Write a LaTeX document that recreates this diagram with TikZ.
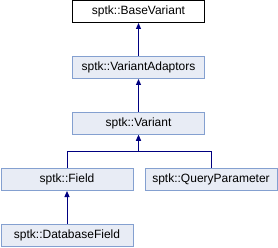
\documentclass[tikz,border=0pt]{standalone}
\usepackage{fontspec}
\setmainfont{Liberation Sans}
\usepackage{tikz}
\usetikzlibrary{arrows.meta}
\definecolor{navyx}{HTML}{000080}
\definecolor{edgex}{HTML}{84A0D0}
\definecolor{fillx}{HTML}{E8ECF5}
\tikzset{
  ar/.style={{Triangle[length=6pt,width=5pt]}-,navyx,line width=1pt},
  cls/.style={draw=edgex,line width=1pt,fill=fillx,minimum width=132pt,minimum height=22pt,inner sep=0pt,font=\fontsize{12}{14}\selectfont},
  top/.style={cls,draw=black,fill=white}
}
\begin{document}
\begin{tikzpicture}[x=1pt,y=-1pt]
\useasboundingbox (0,0) rectangle (278,248);
\node[top] (base) at (138.5,11.5) {sptk::BaseVariant};
\node[cls] (adapt) at (138.5,67.5) {sptk::VariantAdaptors};
\node[cls] (var) at (138.5,123.5) {sptk::Variant};
\node[cls] (field) at (67,179.5) {sptk::Field};
\node[cls] (query) at (211,179.5) {sptk::QueryParameter};
\node[cls] (dbfield) at (67,235.5) {sptk::DatabaseField};
\draw[ar] (base.south) -- (adapt.north);
\draw[ar] (adapt.south) -- (var.north);
\draw[ar] (var.south) -- ++(0,17) -| (field.north);
\draw[ar] (var.south) -- ++(0,17) -| (query.north);
\draw[ar] (field.south) -- (dbfield.north);
\end{tikzpicture}
\end{document}
